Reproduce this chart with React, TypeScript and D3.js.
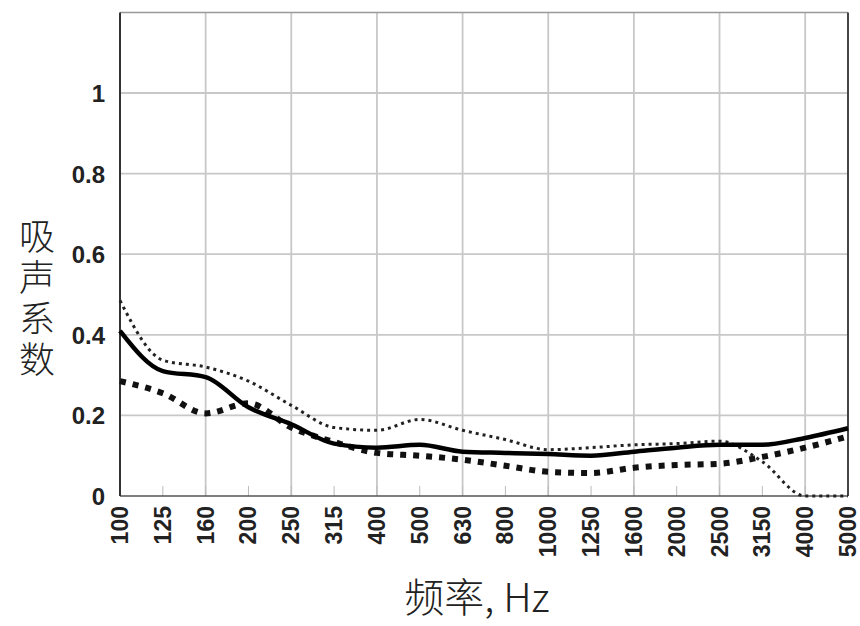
import React, { useEffect, useRef } from "react";
import * as d3 from "d3";

const width = 860;
const height = 626;
const margin = { top: 14, right: 12, bottom: 130, left: 120 };

const frequencies = [
  "100", "125", "160", "200", "250", "315", "400", "500", "630",
  "800", "1000", "1250", "1600", "2000", "2500", "3150", "4000", "5000",
];
const yTicks = [0, 0.2, 0.4, 0.6, 0.8, 1];

const solidSeries = [
  0.41, 0.31, 0.295, 0.22, 0.178, 0.13, 0.12, 0.127, 0.11,
  0.107, 0.104, 0.1, 0.11, 0.12, 0.127, 0.127, 0.144, 0.168,
];
const dottedSeries = [
  0.485, 0.337, 0.32, 0.285, 0.225, 0.17, 0.163, 0.19, 0.163,
  0.14, 0.115, 0.12, 0.127, 0.13, 0.136, 0.085, 0, 0,
];
const dashedSeries = [
  0.285, 0.255, 0.205, 0.23, 0.17, 0.134, 0.107, 0.1, 0.09,
  0.075, 0.06, 0.057, 0.07, 0.077, 0.08, 0.097, 0.12, 0.148,
];

const App = () => {
  const ref = useRef<SVGSVGElement>(null);

  useEffect(() => {
    const svg = d3.select(ref.current);
    svg.selectAll("*").remove();

    const x = d3
      .scalePoint()
      .domain(frequencies)
      .range([margin.left, width - margin.right]);

    const y = d3
      .scaleLinear()
      .domain([0, 1.2])
      .range([height - margin.bottom, height - margin.bottom - 403 * 1.2]);

    const bottom = y(0);
    const top = y(1.2);
    const left = margin.left;
    const right = width - margin.right;

    // grid
    svg
      .append("g")
      .selectAll("line")
      .data(yTicks.filter((d) => d > 0))
      .join("line")
      .attr("x1", left)
      .attr("x2", right)
      .attr("y1", (d) => y(d))
      .attr("y2", (d) => y(d))
      .attr("stroke", "#c8c8c8")
      .attr("stroke-width", 1.8);

    svg
      .append("g")
      .selectAll("line")
      .data(frequencies.filter((d, i) => i % 2 === 0 && i > 0))
      .join("line")
      .attr("x1", (d) => x(d)!)
      .attr("x2", (d) => x(d)!)
      .attr("y1", top)
      .attr("y2", bottom)
      .attr("stroke", "#c8c8c8")
      .attr("stroke-width", 1.8);

    // small inward ticks
    svg
      .append("g")
      .selectAll("line")
      .data(frequencies)
      .join("line")
      .attr("x1", (d) => x(d)!)
      .attr("x2", (d) => x(d)!)
      .attr("y1", bottom)
      .attr("y2", bottom - 10)
      .attr("stroke", "#bbb")
      .attr("stroke-width", 1);

    // frame
    svg.append("line").attr("x1", left).attr("x2", right).attr("y1", top).attr("y2", top)
      .attr("stroke", "#999").attr("stroke-width", 1.5);
    svg.append("line").attr("x1", right).attr("x2", right).attr("y1", top).attr("y2", bottom)
      .attr("stroke", "#444").attr("stroke-width", 2);
    svg.append("line").attr("x1", left).attr("x2", right).attr("y1", bottom).attr("y2", bottom)
      .attr("stroke", "#555").attr("stroke-width", 1.5);
    svg.append("line").attr("x1", left).attr("x2", left).attr("y1", top).attr("y2", bottom)
      .attr("stroke", "#333").attr("stroke-width", 2);

    // y tick labels
    svg
      .append("g")
      .selectAll("text")
      .data(yTicks)
      .join("text")
      .attr("x", 105)
      .attr("y", (d) => y(d) + 9)
      .attr("text-anchor", "end")
      .attr("font-family", "Liberation Sans, Arial, sans-serif")
      .attr("font-weight", "bold")
      .attr("font-size", 24)
      .attr("fill", "#222")
      .text((d) => d3.format("~g")(d));

    // x tick labels
    svg
      .append("g")
      .selectAll("text")
      .data(frequencies)
      .join("text")
      .attr("transform", (d) => `translate(${x(d)! + 8},${bottom + 10}) rotate(-90)`)
      .attr("text-anchor", "end")
      .attr("font-family", "Liberation Sans, Arial, sans-serif")
      .attr("font-weight", "bold")
      .attr("font-size", 23)
      .attr("fill", "#222")
      .text((d) => d);

    // series
    const lineGen = d3
      .line<number>()
      .x((d, i) => x(frequencies[i])!)
      .y((d) => y(d))
      .curve(d3.curveMonotoneX);

    svg
      .append("path")
      .datum(dashedSeries)
      .attr("fill", "none")
      .attr("stroke", "#111")
      .attr("stroke-width", 6)
      .attr("stroke-dasharray", "6 7")
      .attr("d", lineGen);

    svg
      .append("path")
      .datum(dottedSeries)
      .attr("fill", "none")
      .attr("stroke", "#222")
      .attr("stroke-width", 3)
      .attr("stroke-dasharray", "3 4")
      .attr("d", lineGen);

    svg
      .append("path")
      .datum(solidSeries)
      .attr("fill", "none")
      .attr("stroke", "#000")
      .attr("stroke-width", 4.5)
      .attr("stroke-linejoin", "round")
      .attr("d", lineGen);

    // y title, written vertically
    svg
      .append("text")
      .attr("x", 37)
      .attr("y", 218)
      .attr("font-family", "Noto Sans CJK SC, sans-serif")
      .attr("font-weight", 300)
      .attr("font-size", 36)
      .attr("letter-spacing", 5)
      .attr("fill", "#222")
      .style("writing-mode", "vertical-rl")
      .text("吸声系数");

    // x title
    svg
      .append("text")
      .attr("x", 477)
      .attr("y", 612)
      .attr("text-anchor", "middle")
      .attr("font-family", "Noto Sans CJK SC, sans-serif")
      .attr("font-weight", 300)
      .attr("font-size", 40)
      .attr("fill", "#222")
      .text("频率, Hz");
  }, []);

  return (
    <svg
      ref={ref}
      width={width}
      height={height}
      style={{ position: "absolute", left: 0, top: 0, background: "#fff" }}
    />
  );
};

export default App;
